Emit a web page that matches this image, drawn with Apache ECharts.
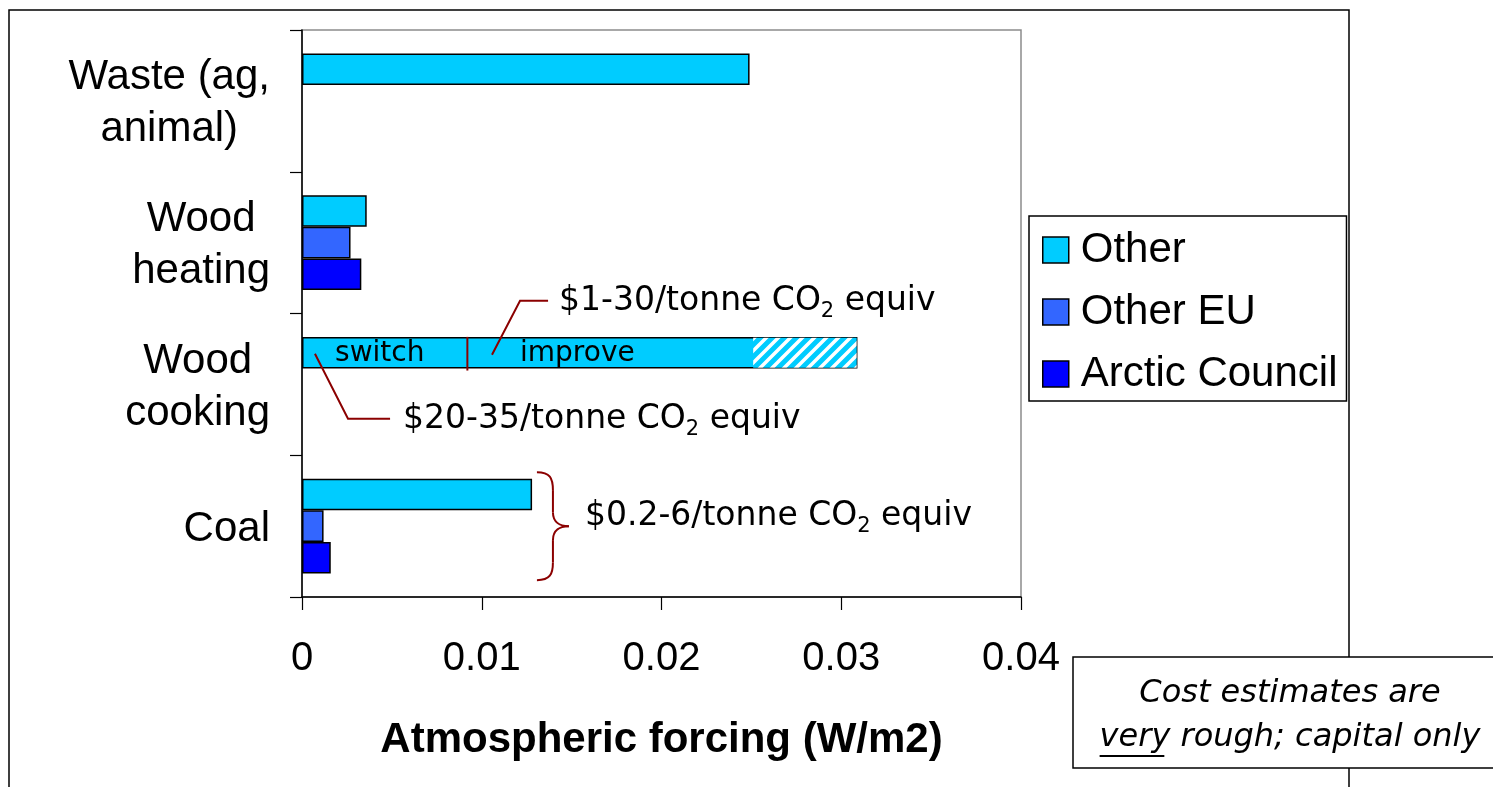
<!DOCTYPE html>
<html><head><meta charset="utf-8">
<script src="https://cdn.jsdelivr.net/npm/echarts@6/dist/echarts.min.js"></script>
<style>html,body{margin:0;padding:0;background:#fff;} #c{width:1493px;height:787px;}</style>
</head><body><div id="c"></div>
<script>
// ---------- data ----------
const categories = ['Coal', 'Wood\ncooking', 'Wood\nheating', 'Waste (ag,\nanimal)'];
const seriesNames = ['Other', 'Other EU', 'Arctic Council'];
const otherValues = [0.0128, 0.0309, 0.0036, 0.0249];
const otherEUValues = [0.0012, null, 0.0027, null];
const arcticValues = [0.0016, null, 0.0033, null];
const xTicks = [0, 0.01, 0.02, 0.03, 0.04];
// hatched portion of the Wood cooking "Other" bar: [category index, from, to]
const hatchRanges = [[1, 0.0251, 0.0309]];
// switch / improve split on the Wood cooking bar
const switchImproveSplit = 0.0092;
const costTexts = ['$1-30/tonne CO', '$20-35/tonne CO', '$0.2-6/tonne CO'];
const noteLines = ['Cost estimates are', 'very rough; capital only'];

// ---------- styles ----------
const COLORS = ['#00CCFF', '#3366FF', '#0000FF'];
const RED = '#8B0000';
const GAP = 0.33;
const border = { borderColor: '#000', borderWidth: 1.5 };

const chart = echarts.init(document.getElementById('c'), null, { renderer: 'canvas' });

// hatch pattern
const S = 12;
const pat = document.createElement('canvas'); pat.width = S; pat.height = S;
const g = pat.getContext('2d');
g.fillStyle = COLORS[0]; g.fillRect(0, 0, S, S);
g.strokeStyle = '#fff'; g.lineWidth = 3.5; g.beginPath();
g.moveTo(0, S); g.lineTo(S, 0);
g.moveTo(-S / 2, S / 2); g.lineTo(S / 2, -S / 2);
g.moveTo(S / 2, S + S / 2); g.lineTo(S + S / 2, S / 2);
g.stroke();

const option = {
  animation: false,
  grid: { left: 302, top: 30, width: 719, height: 567, show: true, borderColor: '#8c8c8c', borderWidth: 1.5 },
  xAxis: {
    type: 'value', min: xTicks[0], max: xTicks[xTicks.length - 1], interval: xTicks[1] - xTicks[0],
    splitLine: { show: false },
    axisLine: { show: true, lineStyle: { color: '#000', width: 1.5 } },
    axisTick: { show: true, length: 13, lineStyle: { color: '#000', width: 1.2 } },
    axisLabel: { fontFamily: 'Liberation Sans', fontSize: 40, color: '#000', margin: 42,
      formatter: v => String(+v.toFixed(2)) },
    name: 'Atmospheric forcing (W/m2)', nameLocation: 'middle', nameGap: 122,
    nameTextStyle: { fontFamily: 'Liberation Sans', fontWeight: 'bold', fontSize: 42, color: '#000' }
  },
  yAxis: {
    type: 'category', data: categories,
    axisLine: { lineStyle: { color: '#000', width: 1.5 } },
    axisTick: { show: true, inside: false, length: 12, lineStyle: { color: '#000', width: 1.2 } },
    axisLabel: { margin: 32, align: 'right',
      formatter: v => v.split('\n').map(l => '{c|' + l + '}').join('\n'),
      rich: { c: { align: 'center', fontFamily: 'Liberation Sans', fontSize: 42, lineHeight: 52, color: '#000', padding: [6, 0, 0, 0] } } }
  },
  legend: {
    orient: 'vertical', left: 1029, top: 216, data: seriesNames, icon: 'rect',
    itemWidth: 26, itemHeight: 26, itemGap: 20, padding: [13, 9, 6, 13],
    borderColor: '#000', borderWidth: 1.5, backgroundColor: '#fff', selectedMode: false,
    textStyle: { fontFamily: 'Liberation Sans', fontSize: 42, color: '#000', lineHeight: 40, padding: [0, 0, 0, 7] },
    itemStyle: { borderColor: '#000', borderWidth: 1.5 }
  },
  series: [
    { name: seriesNames[0], type: 'bar', data: otherValues, barGap: 0, barCategoryGap: (GAP * 100) + '%',
      itemStyle: Object.assign({ color: COLORS[0] }, border) },
    { name: seriesNames[1], type: 'bar', data: otherEUValues, itemStyle: Object.assign({ color: COLORS[1] }, border) },
    { name: seriesNames[2], type: 'bar', data: arcticValues, itemStyle: Object.assign({ color: COLORS[2] }, border) },
    { name: 'hatch', type: 'custom', z: 3, silent: true, data: hatchRanges, encode: { y: 0, x: [1, 2] },
      renderItem: function (params, api) {
        const c = api.value(0);
        const a = api.coord([api.value(1), c]);
        const b = api.coord([api.value(2), c]);
        const band = api.size([0, 1])[1];
        const bw = band * (1 - GAP) / 3;
        const top = a[1] - 1.5 * bw;
        return { type: 'rect', shape: { x: a[0], y: top + 0.75, width: b[0] - a[0] - 0.75, height: bw - 1.5 },
          style: { fill: { image: pat, repeat: 'repeat' }, stroke: null } };
      } }
  ]
};
chart.setOption(option);

// ---------- annotations ----------
const P = (x, c) => chart.convertToPixel({ gridIndex: 0 }, [x, c]);
const band = P(0, 0)[1] - P(0, 1)[1];
const bw = band * (1 - GAP) / 3;
const cookY = P(0, 1)[1] - bw;
const coalY = P(0, 0)[1];
const X = v => P(v, 0)[0];

const costRich = {
  a: { fontFamily: 'DejaVu Sans', fontSize: 33, lineHeight: 42, fill: '#000' },
  s: { fontFamily: 'DejaVu Sans', fontSize: 21, lineHeight: 21, padding: [20, 0, 0, 0], fill: '#000' }
};
function costText(i, x, y) {
  return { type: 'text', x: x, y: y, z: 10,
    style: { text: '{a|' + costTexts[i] + '}{s|2}{a| equiv}', rich: costRich,
      align: 'left', verticalAlign: 'middle', textAlign: 'left', textVerticalAlign: 'middle' } };
}
const redLine = { stroke: RED, lineWidth: 2, fill: null };

const bx = X(0.01307);
const brace = [
  [[bx, coalY - 54], [bx + 16, coalY - 36], [bx + 13, coalY - 54], [bx + 16, coalY - 48]],
  [[bx + 16, coalY - 14], [bx + 32, coalY], [bx + 16, coalY - 4], [bx + 23, coalY]],
  [[bx + 32, coalY], [bx + 16, coalY + 14], [bx + 23, coalY], [bx + 16, coalY + 4]],
  [[bx + 16, coalY + 36], [bx, coalY + 54], [bx + 16, coalY + 48], [bx + 13, coalY + 54]]
].map(p => ({ type: 'bezierCurve', z: 10,
  shape: { x1: p[0][0], y1: p[0][1], x2: p[1][0], y2: p[1][1], cpx1: p[2][0], cpy1: p[2][1], cpx2: p[3][0], cpy2: p[3][1] },
  style: redLine }));

// note text measurement for underline
const mc = document.createElement('canvas').getContext('2d');
mc.font = 'italic 32px "DejaVu Sans"';
const line2W = mc.measureText(noteLines[1]).width;
const veryW = mc.measureText('very').width;
const noteCx = 1290;

const graphics = [
  { type: 'rect', z: 0, shape: { x: 9, y: 10, width: 1340, height: 820 }, style: { fill: null, stroke: '#000', lineWidth: 1.5 } },
  // switch / improve
  { type: 'line', z: 10, shape: { x1: X(switchImproveSplit), y1: cookY - bw / 2, x2: X(switchImproveSplit), y2: cookY + bw / 2 + 2 }, style: redLine },
  { type: 'text', z: 10, x: X(0.00184), y: cookY + 1, style: { text: 'switch', fontFamily: 'DejaVu Sans', fontSize: 28, fill: '#000', align: 'left', verticalAlign: 'middle', textVerticalAlign: 'middle' } },
  { type: 'text', z: 10, x: X(0.01213), y: cookY + 1, style: { text: 'improve', fontFamily: 'DejaVu Sans', fontSize: 28, fill: '#000', align: 'left', verticalAlign: 'middle', textVerticalAlign: 'middle' } },
  // leader 1
  { type: 'polyline', z: 10, shape: { points: [[X(0.01057), cookY + 2], [X(0.01213), cookY - 52], [X(0.01369), cookY - 52]] }, style: redLine },
  costText(0, X(0.01369) + 11, cookY - 51),
  // leader 2
  { type: 'polyline', z: 10, shape: { points: [[X(0.00072), cookY + 1], [X(0.00256), cookY + 66], [X(0.0049), cookY + 66]] }, style: redLine },
  costText(1, X(0.0049) + 13, cookY + 67),
  // brace
  ...brace,
  { type: 'line', z: 10, shape: { x1: bx + 16, y1: coalY - 36, x2: bx + 16, y2: coalY - 14 }, style: redLine },
  { type: 'line', z: 10, shape: { x1: bx + 16, y1: coalY + 14, x2: bx + 16, y2: coalY + 36 }, style: redLine },
  costText(2, X(0.01574), coalY - 10),
  // note box
  { type: 'rect', z: 20, shape: { x: 1073, y: 657, width: 440, height: 111 }, style: { fill: '#fff', stroke: '#000', lineWidth: 1.5 } },
  { type: 'text', z: 21, x: noteCx, y: 694, style: { text: noteLines[0], fontFamily: 'DejaVu Sans', fontStyle: 'italic', fontSize: 32, fill: '#000', align: 'center', verticalAlign: 'middle', textAlign: 'center', textVerticalAlign: 'middle' } },
  { type: 'text', z: 21, x: noteCx, y: 738, style: { text: noteLines[1], fontFamily: 'DejaVu Sans', fontStyle: 'italic', fontSize: 32, fill: '#000', align: 'center', verticalAlign: 'middle', textAlign: 'center', textVerticalAlign: 'middle' } },
  { type: 'line', z: 21, shape: { x1: noteCx - line2W / 2, y1: 756, x2: noteCx - line2W / 2 + veryW - 6, y2: 756 }, style: { stroke: '#000', lineWidth: 2 } }
];
chart.setOption({ graphic: graphics });
</script>
</body></html>
